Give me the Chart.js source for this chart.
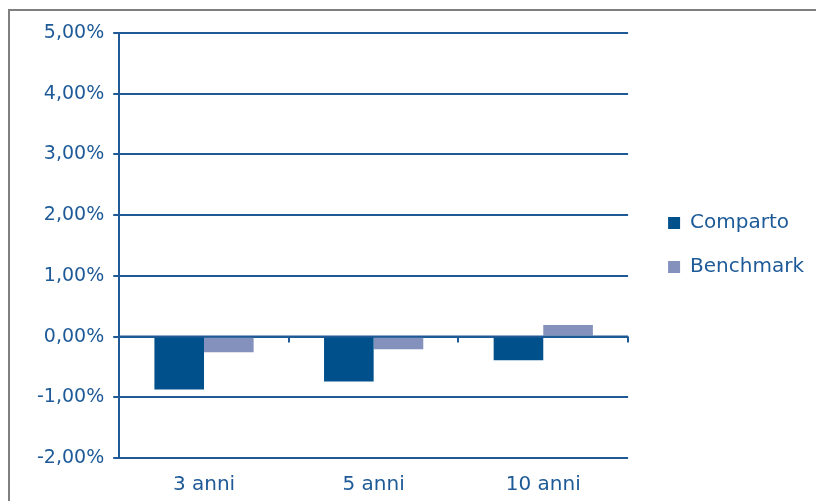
<!DOCTYPE html>
<html>
<head>
<meta charset="utf-8">
<script src="https://cdn.jsdelivr.net/npm/chart.js@4.4.1/dist/chart.umd.min.js"></script>
<style>
  html, body { margin: 0; padding: 0; background: #fff; overflow: hidden; }
  .wrap { position: relative; width: 816px; height: 501px; }
  .frame { position: absolute; left: 8px; top: 9px; width: 900px; height: 600px; border: 2px solid #7f7f7f; box-sizing: border-box; }
  canvas { position: absolute; left: 0; top: 0; }
</style>
</head>
<body>
<div class="wrap">
  <div class="frame"></div>
  <canvas id="chart" width="816" height="501"></canvas>
</div>
<script>
// dati del grafico
const categories = ['3 anni', '5 anni', '10 anni'];
const comparto = [-0.87, -0.74, -0.39];
const benchmark = [-0.26, -0.21, 0.19];
const yTicks = [-2, -1, 0, 1, 2, 3, 4, 5];

const textColor = '#1d5a97';
const lineColor = '#1f5a96';

// tacche sotto la linea dello zero, ai confini delle categorie
const zeroTicks = {
  id: 'zeroTicks',
  afterDatasetsDraw(chart) {
    const x = chart.scales.x, y = chart.scales.y;
    const y0 = y.getPixelForValue(0);
    const half = (x.getPixelForValue(1) - x.getPixelForValue(0)) / 2;
    const ctx = chart.ctx;
    ctx.save();
    ctx.strokeStyle = lineColor;
    ctx.lineWidth = 2;
    ctx.beginPath();
    ctx.moveTo(chart.chartArea.left, y0);
    ctx.lineTo(chart.chartArea.right, y0);
    for (let i = 0; i < categories.length; i++) {
      const px = Math.round(x.getPixelForValue(i) + half);
      ctx.moveTo(px, y0);
      ctx.lineTo(px, y0 + 6);
    }
    ctx.stroke();
    ctx.restore();
  }
};

// sposta la legenda (a destra e un po' in alto) e allarga il clip
const legendGap = {
  id: 'legendGap',
  afterLayout(chart) {
    const lg = chart.legend;
    lg.left += 16;
    lg.right = chart.width;
    lg.width = lg.right - lg.left;
    lg.top -= 22;
    lg.bottom -= 22;
  }
};

const ctx = document.getElementById('chart').getContext('2d');
const chart = new Chart(ctx, {
  type: 'bar',
  data: {
    labels: categories,
    datasets: [
      { label: 'Comparto', data: comparto, backgroundColor: '#00508c' },
      { label: 'Benchmark', data: benchmark, backgroundColor: '#8591bd' }
    ]
  },
  options: {
    responsive: false,
    animation: false,
    categoryPercentage: 0.585,
    barPercentage: 1,
    layout: { padding: { left: 28, top: 33, right: 18, bottom: 0 } },
    scales: {
      x: {
        grid: { display: false, drawTicks: false },
        border: { display: false },
        ticks: { color: textColor, padding: 15, font: { family: 'DejaVu Sans', size: 20 } },
        afterFit(axis) { axis.height = 43; }
      },
      y: {
        min: -2,
        max: 5,
        afterBuildTicks(axis) { axis.ticks = yTicks.map(v => ({ value: v })); },
        grid: { color: lineColor, lineWidth: 2, tickLength: 6 },
        border: { color: lineColor, width: 2 },
        ticks: {
          color: textColor,
          padding: 9,
          font: { family: 'DejaVu Sans', size: 19 },
          callback: v => v.toFixed(2).replace('.', ',') + '%'
        }
      }
    },
    plugins: {
      legend: {
        position: 'right',
        labels: {
          boxWidth: 12,
          boxHeight: 12,
          padding: 24,
          color: textColor,
          font: { family: 'DejaVu Sans', size: 20 }
        }
      },
      tooltip: { enabled: false }
    }
  },
  plugins: [zeroTicks, legendGap]
});
</script>
</body>
</html>
